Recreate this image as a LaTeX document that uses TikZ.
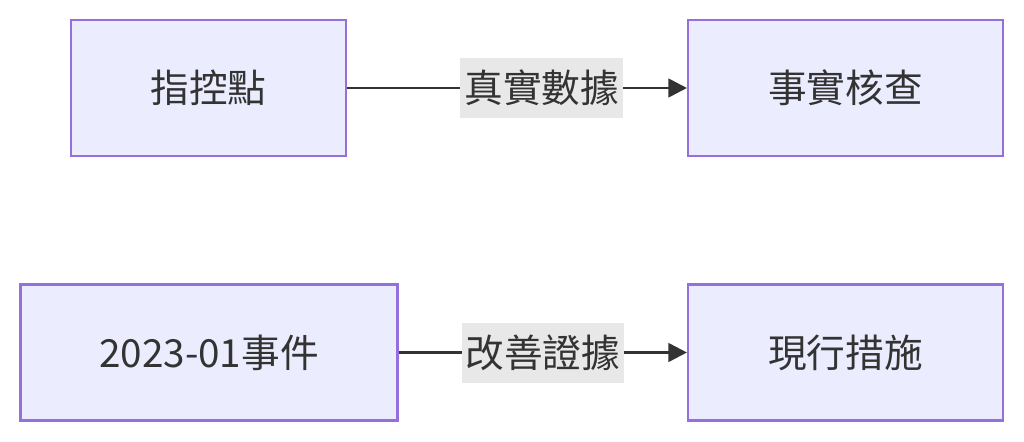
\documentclass[tikz,border=0pt]{standalone}
\usepackage{fontspec}
\newfontfamily\cjk{Noto Sans CJK TC}
\usetikzlibrary{arrows.meta}
\definecolor{boxfill}{HTML}{ECECFF}
\definecolor{boxline}{HTML}{9370DB}
\definecolor{ink}{HTML}{333333}
\definecolor{lblbg}{HTML}{E8E8E8}
\begin{document}
\begin{tikzpicture}[x=0.75pt,y=-0.75pt,font=\cjk\fontsize{29}{34}\selectfont,text=ink,
    box/.style={draw=boxline,fill=boxfill,line width=1.8pt,minimum height=102pt},
    lbl/.style={fill=lblbg,inner sep=0pt,minimum width=122pt,minimum height=45pt},
    flow/.style={draw=ink,line width=2pt,-{Triangle[length=14pt,width=14pt]}}]
        \useasboundingbox (0,0) rectangle (1024,442);
        \node[box,minimum width=206pt] (zhikong) at (208.5,88) {指控點};
        \node[box,minimum width=236pt] (shishi) at (845.5,88) {事實核查};
        \node[box,minimum width=283pt] (shijian) at (209,352.5) {2023-01事件};
        \node[box,minimum width=236pt] (cuoshi) at (845.5,352.5) {現行措施};
        \draw[flow] (zhikong) -- (shishi) node[lbl,pos=0.573] {真實數據};
        \draw[flow] (shijian) -- (cuoshi) node[lbl,pos=0.5] {改善證據};
      \end{tikzpicture}
\end{document}
